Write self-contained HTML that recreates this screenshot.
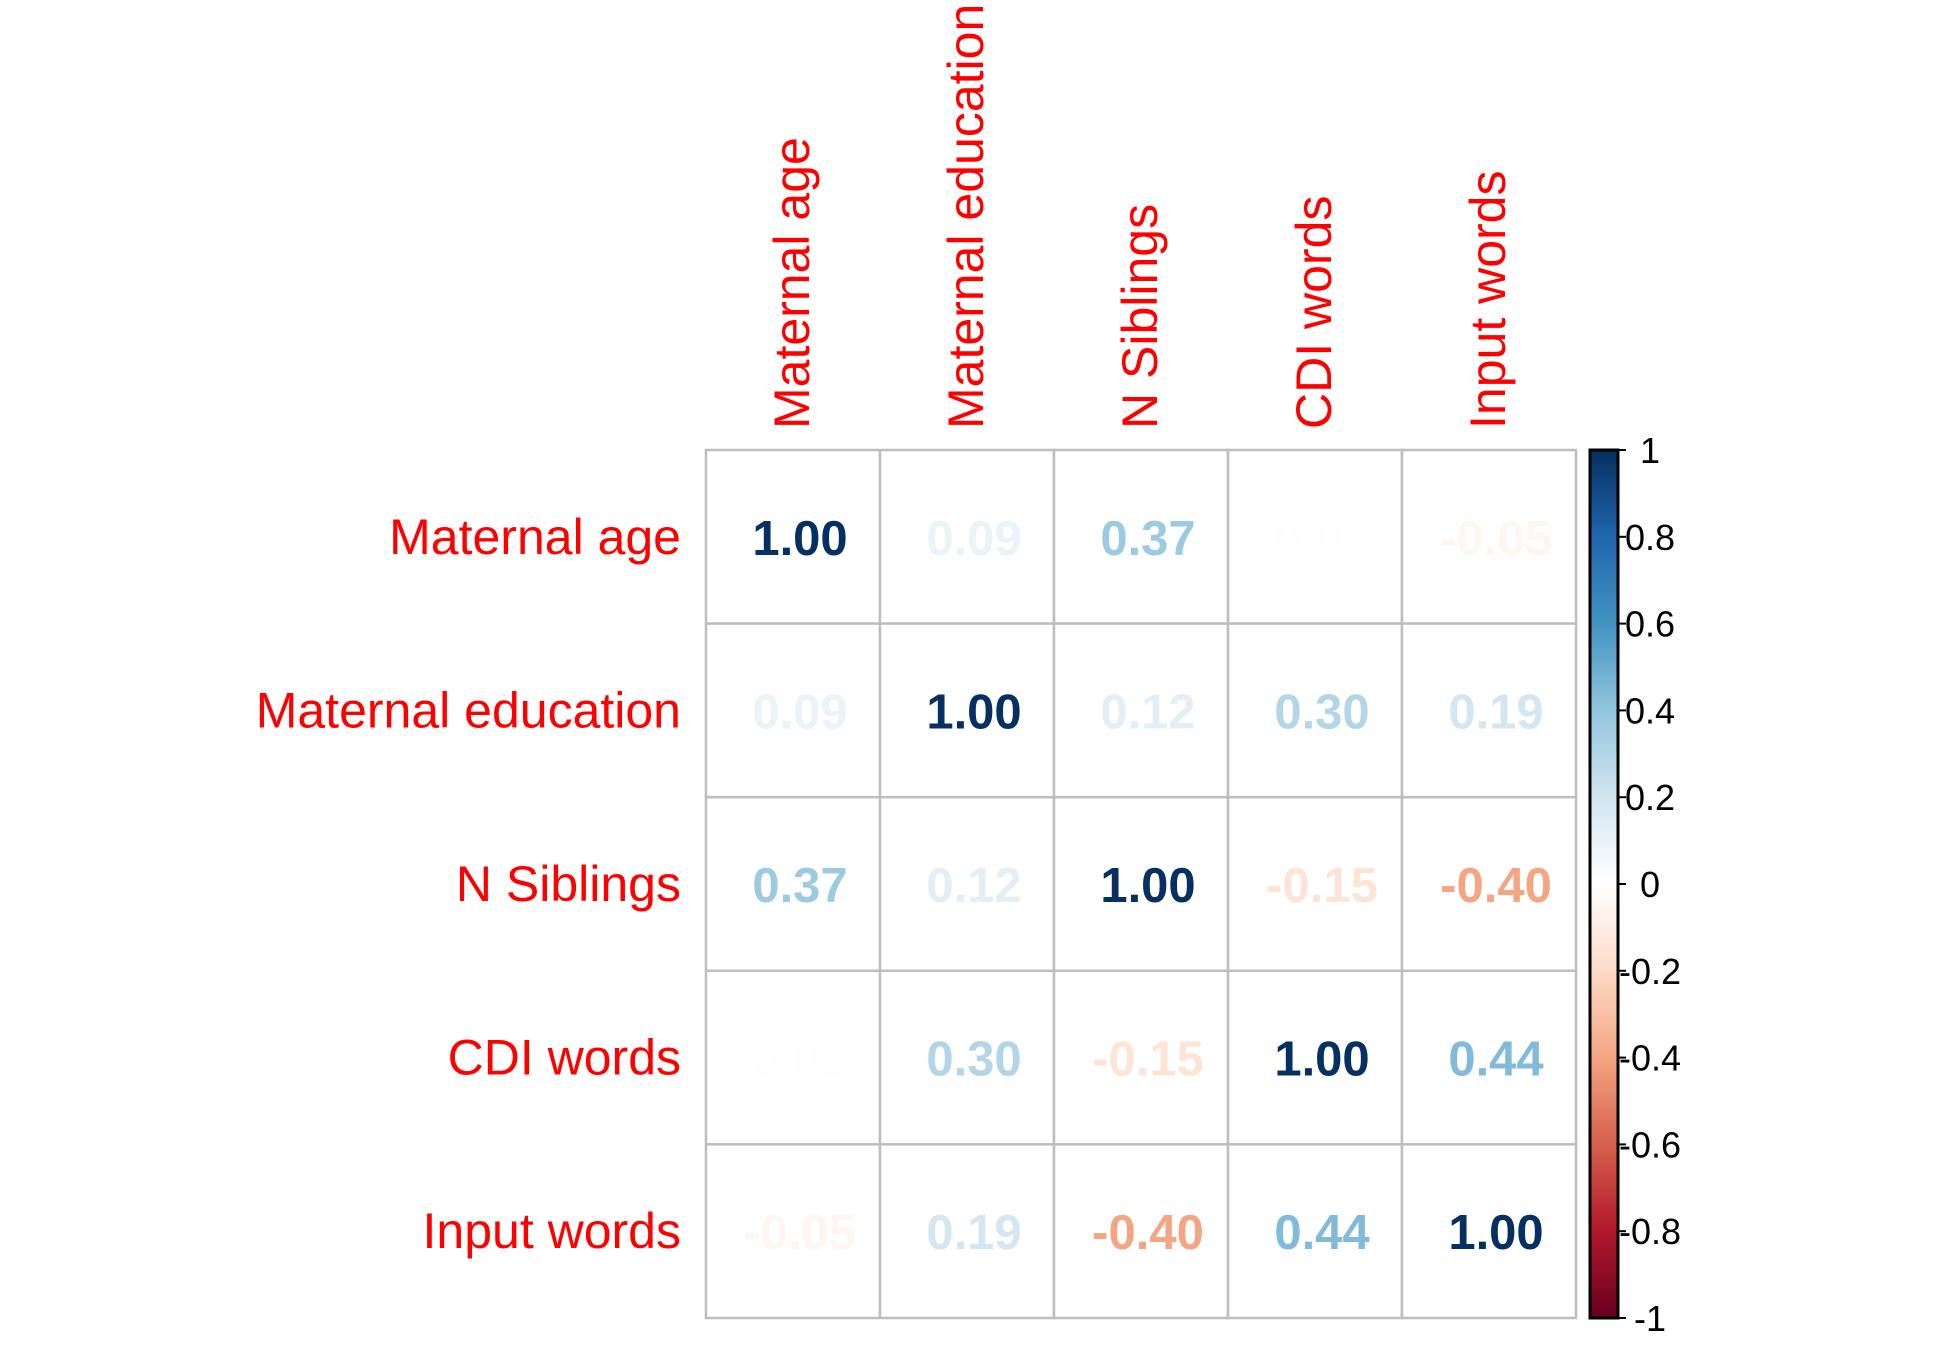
<!DOCTYPE html>
<html><head><meta charset="utf-8"><style>
html,body{margin:0;padding:0;background:#fff;}
svg{display:block;font-family:"Liberation Sans",sans-serif;}
</style></head><body>
<svg id="chart" width="1950" height="1350" viewBox="0 0 1950 1350">
<defs>
<linearGradient id="cbgrad" x1="0" y1="1" x2="0" y2="0">
<stop offset="0" stop-color="#67001F"/><stop offset="0.1" stop-color="#B2182B"/><stop offset="0.2" stop-color="#D6604D"/><stop offset="0.3" stop-color="#F4A582"/><stop offset="0.4" stop-color="#FDDBC7"/><stop offset="0.5" stop-color="#FFFFFF"/><stop offset="0.6" stop-color="#D1E5F0"/><stop offset="0.7" stop-color="#92C5DE"/><stop offset="0.8" stop-color="#4393C3"/><stop offset="0.9" stop-color="#2166AC"/><stop offset="1" stop-color="#053061"/>
</linearGradient>
</defs>
<g id="grid"></g>
<g id="labels"></g>
<g id="colorbar"></g>
</svg>
<script>
const variables = ["Maternal age","Maternal education","N Siblings","CDI words","Input words"];
const row0 = [1.00, 0.09, 0.37, 0.01, -0.05];
const row1 = [0.09, 1.00, 0.12, 0.30, 0.19];
const row2 = [0.37, 0.12, 1.00, -0.15, -0.40];
const row3 = [0.01, 0.30, -0.15, 1.00, 0.44];
const row4 = [-0.05, 0.19, -0.40, 0.44, 1.00];
const colorbarTicks = [1, 0.8, 0.6, 0.4, 0.2, 0, -0.2, -0.4, -0.6, -0.8, -1];

const NS = "http://www.w3.org/2000/svg";
const rows = [row0,row1,row2,row3,row4];
const gx0 = 706, gx1 = 1576, gy0 = 450, gy1 = 1318;
const n = variables.length;
const cw = (gx1-gx0)/n, ch = (gy1-gy0)/n;
const xPos = i => gx0 + i*cw;
const yPos = i => gy0 + i*ch;
const cbX = 1590, cbW = 28;
const cbY = v => gy0 + (1 - v) / 2 * (gy1 - gy0);
const stops = ["#67001F","#B2182B","#D6604D","#F4A582","#FDDBC7","#FFFFFF","#D1E5F0","#92C5DE","#4393C3","#2166AC","#053061"];
function hex(h){return [1,3,5].map(i=>parseInt(h.substr(i,2),16));}
function colorFor(v){
  const t = (v+1)/2*10; const i = Math.min(9, Math.floor(t)); const f = t - i;
  const a = hex(stops[i]), b = hex(stops[i+1]);
  return "rgb(" + a.map((c,k)=>Math.round(c+(b[k]-c)*f)).join(",") + ")";
}
function mk(tag, attrs, parent){const e=document.createElementNS(NS,tag);for(const k in attrs)e.setAttribute(k,attrs[k]);parent.appendChild(e);return e;}
const grid = document.getElementById("grid");
const labels = document.getElementById("labels");
const cb = document.getElementById("colorbar");

for(let r=0;r<n;r++){
  for(let c=0;c<n;c++){
    const v = rows[r][c];
    const cell = mk("rect",{x:xPos(c),y:yPos(r),width:cw,height:ch,fill:"#fff",stroke:"#BEBEBE","stroke-width":2.5},grid);
    
    
    const t = mk("text",{x:xPos(c)+cw/2+7,y:yPos(r)+ch/2+18,"text-anchor":"middle","font-size":49,"font-weight":"bold",fill:colorFor(v)},grid);
    t.textContent = v.toFixed(2);
    
    
  }
}
for(let i=0;i<n;i++){
  const rl = mk("text",{x:681,y:yPos(i)+ch/2+17,"text-anchor":"end","font-size":50,fill:"#FF0000"},labels);
  rl.textContent = variables[i];
  
  
  const cx = xPos(i)+cw/2+16, cy = 429;
  const cl = mk("text",{x:cx,y:cy,"text-anchor":"start","font-size":50,fill:"#FF0000",transform:"rotate(-90 "+cx+" "+cy+")"},labels);
  cl.textContent = variables[i];
  
  
}
const bar = mk("rect",{x:cbX,y:gy0,width:cbW,height:gy1-gy0,fill:"url(#cbgrad)",stroke:"#000","stroke-width":3},cb);


colorbarTicks.forEach(v=>{
  const y = cbY(v);
  const tk = mk("line",{x1:cbX+cbW,x2:cbX+cbW+8,y1:y,y2:y,stroke:"#000","stroke-width":2},cb);
  
  
  const tl = mk("text",{x:1650,y:y+13,"text-anchor":"middle","font-size":36,fill:"#000"},cb);
  tl.textContent = String(v);
  
  
});
</script>
</body></html>
